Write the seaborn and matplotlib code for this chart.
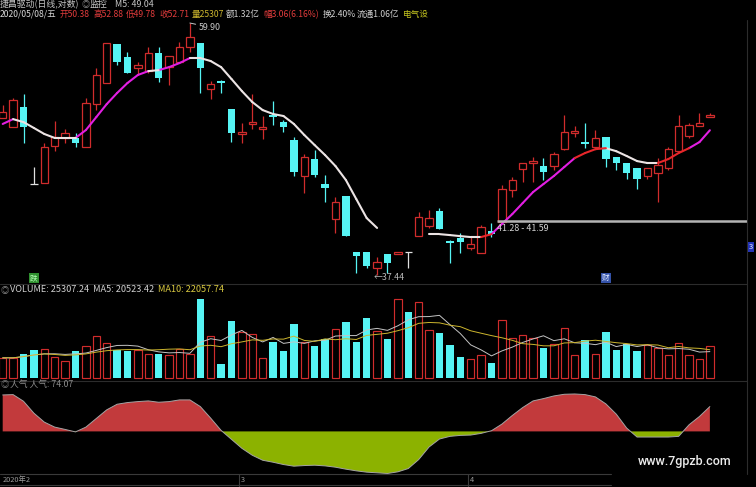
import numpy as np
import pandas as pd
import matplotlib
matplotlib.use("Agg")
import matplotlib.pyplot as plt
from matplotlib.lines import Line2D
import seaborn as sns

# --- DATA (daily candles 2020-01-21 .. 2020-05-08) ---
opens = [50.17, 49.34, 51.21, 44.36, 44.44, 47.61, 48.34, 48.34, 47.52, 51.49,
         53.56, 57.60, 56.22, 55.07, 54.76, 56.64, 55.17, 55.69, 57.28, 57.71,
         52.96, 53.75, 51.01, 48.70, 49.62, 49.15, 50.45, 49.79, 48.15, 45.03,
         46.47, 44.36, 41.55, 43.37, 39.07, 39.07, 37.92, 38.93, 38.93, 39.07,
         40.25, 41.02, 42.17, 39.88, 40.10, 39.36, 39.00, 40.64, 41.31, 43.86,
         45.61, 46.13, 45.87, 45.87, 47.34, 48.79, 47.97, 47.52, 48.43, 46.65,
         46.13, 45.70, 45.03, 45.28, 45.70, 47.16, 48.52, 49.43, 50.26]
highs = [51.40, 52.08, 52.47, 45.79, 47.88, 49.88, 49.15, 48.79, 52.08, 55.07,
         57.71, 57.60, 56.74, 55.69, 57.28, 57.28, 56.32, 57.80, 59.90, 57.71,
         53.75, 53.86, 51.01, 49.71, 52.47, 50.36, 51.79, 49.98, 48.43, 46.91,
         47.25, 45.11, 43.29, 43.37, 39.07, 39.07, 38.71, 38.93, 39.07, 39.07,
         42.10, 42.25, 42.41, 39.95, 40.48, 40.18, 41.10, 41.25, 44.27, 44.94,
         46.13, 46.65, 46.56, 47.07, 50.45, 49.43, 49.71, 49.06, 48.43, 46.65,
         46.13, 45.70, 45.70, 46.56, 47.52, 50.45, 49.71, 50.64, 50.64]
lows = [50.17, 49.34, 47.88, 44.36, 44.44, 47.16, 47.88, 47.52, 47.52, 50.92,
        53.56, 55.38, 54.57, 54.37, 54.57, 53.65, 53.36, 55.69, 56.74, 52.57,
        51.98, 52.57, 47.97, 47.88, 49.15, 48.24, 49.52, 48.88, 45.03, 43.62,
        44.94, 42.89, 40.48, 40.25, 37.57, 37.92, 37.44, 37.57, 38.93, 37.92,
        40.25, 40.87, 40.79, 38.28, 39.00, 39.22, 39.00, 40.18, 41.31, 43.29,
        44.52, 44.52, 44.69, 45.53, 47.25, 48.43, 47.43, 47.52, 45.79, 45.53,
        44.77, 43.94, 44.77, 42.89, 45.53, 47.16, 48.34, 49.43, 50.26]
closes = [50.73, 51.88, 49.34, 44.36, 47.52, 48.43, 48.79, 47.88, 51.59, 54.37,
          57.71, 55.69, 54.57, 55.38, 56.64, 54.06, 56.32, 57.28, 58.35, 55.07,
          53.46, 53.56, 48.79, 48.88, 49.79, 49.34, 50.26, 49.34, 45.36, 46.65,
          45.11, 44.03, 42.89, 40.25, 38.78, 38.06, 38.35, 38.28, 39.07, 39.07,
          41.70, 41.63, 40.79, 39.73, 39.80, 39.66, 40.94, 40.40, 43.94, 44.69,
          46.13, 46.30, 45.36, 46.91, 48.88, 48.97, 47.79, 48.34, 46.47, 46.13,
          45.28, 44.77, 45.70, 45.96, 47.34, 49.43, 49.52, 49.71, 50.45]

nan = np.nan
ma5_price = [49.62, 50.07, 49.79, 49.25, 48.70, 48.34, 48.34, 48.34, 49.06, 50.26,
             51.49, 52.57, 53.56, 54.37, 54.76, 54.86, 55.17, 55.59, 56.11, 56.11,
             55.80, 55.17, 53.96, 52.76, 51.69, 50.92, 50.55, 50.36, 49.62, 48.61,
             47.70, 46.82, 45.87, 44.69, 43.13, 41.63, 40.87, nan, nan, nan,
             nan, 40.40, 40.40, 40.33, 40.25, 40.18, 40.18, 40.40, 41.17, 41.94,
             42.81, 43.70, 44.36, 45.03, 45.79, 46.56, 47.00, 47.34, 47.43, 47.16,
             46.74, 46.30, 46.13, 46.13, 46.47, 47.00, 47.43, 47.97, 49.04]
# trend state of each MA segment as drawn: S strong up, W weak up, D down/flat
ma5_state = ("S" + "DDDDDD" + "SSSSSSS" + "D" + "SSS" + "D" * 28 + "W"
             + "SSSSSSSS" + "WWW" + "DDDDD" + "WWW" + "SS")

volumes = [15870, 15870, 18690, 21760, 22270, 16130, 13570, 20740, 24830, 32510,
           26880, 21760, 21250, 21760, 18690, 18690, 17920, 22530, 18690, 60930,
           32510, 11010, 44030, 35840, 34050, 15360, 28160, 21250, 41730, 28160,
           25090, 30210, 37630, 43520, 28160, 46590, 36350, 29950, 61180, 50940,
           58620, 36860, 34560, 25860, 16640, 15100, 17660, 11520, 44800, 31230,
           33020, 31230, 23550, 26110, 38400, 17660, 29180, 18430, 35580, 21500,
           26110, 20990, 25340, 23550, 17660, 27390, 18180, 14590, 25307]

renqi = [108.7, 109.7, 89.9, 54.3, 27.7, 12.8, 5.9, -1.5, 12.8, 38.5,
         64.2, 81.0, 86.0, 88.9, 90.9, 86.9, 88.9, 93.9, 93.9, 74.1,
         39.5, 3.0, -23.7, -50.4, -71.1, -86.0, -91.9, -98.8, -103.7, -101.8,
         -100.8, -102.8, -106.7, -112.6, -117.6, -121.5, -123.5, -125.5, -120.5, -110.7,
         -84.0, -46.4, -22.7, -14.8, -11.9, -10.9, -5.9, 2.0, 21.7, 47.4,
         71.1, 90.9, 97.8, 105.7, 110.7, 111.6, 109.7, 102.8, 82.0, 51.4,
         9.9, -16.8, -16.8, -16.8, -16.8, -14.8, 19.8, 44.5, 74.07]

band_low, band_high = 41.28, 41.59
month_labels = ["2020年2", "3", "4"]
month_first_idx = [0, 23, 45]
event_labels = [("跌", 3), ("财", 58)]

header_name = "捷昌驱动(日线,对数)"
header_watch = ["监控", "M5: 49.04"]
quote_fields = ["2020/05/08/五", "开50.38", "高52.88", "低49.78", "收52.71", "量25307",
                "额1.32亿", "幅3.06(6.16%)", "换2.40%", "流通1.06亿", "电气设"]
volume_title = ["VOLUME: 25307.24  MA5: 20523.42", "MA10: 22057.74"]
indicator_title = "人气 人气: 74.07"

# --- STYLE / LAYOUT ---
RED = "#d02c2c"
CYAN = "#56f4f4"
FLAT = "#e0e0e0"
MA_COLORS = {"S": "#e21ee2", "W": "#e8262a", "D": "#ece4e4"}
GRID = "#2c2c2c"
W, H = 756, 487
XLIM = (-0.26, 71.57)
quote_x = [0, 60, 93, 126, 159, 192, 226, 263, 323, 357, 403]
quote_colors = ["#d8d8d8", "#e23c3c", "#e23c3c", "#e23c3c", "#e23c3c", "#cdb62e",
                "#d0d0d0", "#e23c3c", "#d0d0d0", "#d0d0d0", "#c8c820"]

sns.set_style("dark", {"axes.facecolor": "black", "figure.facecolor": "black"})
plt.rcParams["font.family"] = ["Noto Sans CJK SC", "DejaVu Sans"]

fig = plt.figure(figsize=(W / 100, H / 100), dpi=100, facecolor="black")


def box(x0, y0, x1, y1):
    return [x0 / W, 1 - y1 / H, (x1 - x0) / W, (y1 - y0) / H]


def put(x, y, s, color, size=6.1, **kw):
    kw.setdefault("ha", "left")
    kw.setdefault("va", "center")
    fig.text(x / W, 1 - y / H, s, color=color, fontsize=size, **kw)


def hline(y, x0, x1, color=GRID, lw=0.8):
    fig.add_artist(Line2D([x0 / W, x1 / W], [1 - y / H, 1 - y / H], color=color, lw=lw))


def vline(x, y0, y1, color=GRID, lw=0.8):
    fig.add_artist(Line2D([x / W, x / W], [1 - y0 / H, 1 - y1 / H], color=color, lw=lw))


idx = np.arange(len(closes))
o, h, l, c = (np.array(a) for a in (opens, highs, lows, closes))
up, down, flat = c > o, c < o, c == o
candle_colors = np.where(up, RED, np.where(down, CYAN, FLAT))

# 1. price panel (log scale)
ax = fig.add_axes(box(0, 20, 747, 283))
ax.set_yscale("log")
ax.vlines(idx, l, h, colors=candle_colors, lw=0.9, zorder=2)
ax.bar(idx[up], (c - o)[up], bottom=o[up], width=0.7, facecolor="black",
       edgecolor=RED, lw=0.9, zorder=3)
ax.bar(idx[down], (o - c)[down], bottom=c[down], width=0.7, color=CYAN, lw=0, zorder=3)
ax.hlines(c[flat], idx[flat] - 0.35, idx[flat] + 0.35, colors=FLAT, lw=0.9, zorder=3)

rows = []
for i, st in enumerate(ma5_state):
    a, b = ma5_price[i], ma5_price[i + 1]
    if np.isnan(a) or np.isnan(b):
        continue
    rows += [dict(seg=i, x=i, y=a, state=st), dict(seg=i, x=i + 1, y=b, state=st)]
seg_df = pd.DataFrame(rows)
sns.lineplot(data=seg_df, x="x", y="y", hue="state", units="seg", estimator=None,
             palette=MA_COLORS, lw=1.5, legend=False, sort=False, ax=ax,
             solid_capstyle="round", zorder=4)

hi_i, lo_i = int(np.argmax(h)), int(np.argmin(l))
ax.annotate(f"{h[hi_i]:.2f}", xy=(hi_i, h[hi_i]), xytext=(6.5, -3), textcoords="offset points",
            ha="left", va="center", color="#c8c8c8", fontsize=6.4,
            arrowprops=dict(arrowstyle="-", color="#c8c8c8", lw=0.7, shrinkA=0, shrinkB=0))
ax.annotate(f"←{l[lo_i]:.2f}", xy=(lo_i, l[lo_i]), xytext=(-2.5, -1.5), textcoords="offset points",
            ha="left", va="center", color="#b8b8b8", fontsize=6.4)

band_mid = np.sqrt(band_low * band_high)
ax.hlines(band_mid, 47.5, XLIM[1], colors="#b4b4b4", lw=1.8, zorder=5)
ax.annotate(f"{band_low:.2f} - {band_high:.2f}", xy=(47.5, band_mid), xytext=(0, -6),
            textcoords="offset points", ha="left", va="center", color="#d4d4d4", fontsize=6.4,
            zorder=6)

for txt, i in event_labels:
    face, fg = ("#2f8f2f", "#b8ffb8") if txt == "跌" else ("#3452a8", "#e4ecff")
    ax.text(i, 0.018, txt, transform=ax.get_xaxis_transform(), ha="center", va="center",
            fontsize=5.5, color=fg, bbox=dict(boxstyle="square,pad=0.12", fc=face, ec="none"))

ax.set_xlim(XLIM)
ax.set_ylim(36.88, 60.24)
ax.axis("off")

# 2. volume panel
vol = np.array(volumes)
axv = fig.add_axes(box(0, 284, 747, 381))
axv.bar(idx[up], vol[up], width=0.72, facecolor="black", edgecolor=RED, lw=0.85)
axv.bar(idx[~up], vol[~up], width=0.72, color=CYAN, lw=0)
vol_df = pd.DataFrame({"x": idx, "vol": vol})
vol_df["ma5"] = vol_df["vol"].rolling(5, min_periods=1).mean()
vol_df["ma10"] = vol_df["vol"].rolling(10, min_periods=1).mean()
sns.lineplot(data=vol_df, x="x", y="ma5", color="#c4c4c4", lw=0.7, ax=axv)
sns.lineplot(data=vol_df, x="x", y="ma10", color="#cdb62e", lw=0.7, ax=axv)
axv.set_xlim(XLIM)
axv.set_ylim(-1918, 72480)
axv.axis("off")

# 3. popularity indicator panel
rq = np.array(renqi)
axi = fig.add_axes(box(0, 382, 747, 474))
axi.fill_between(idx, rq, 0, where=rq >= 0, interpolate=True, color="#c23a3c", lw=0)
axi.fill_between(idx, rq, 0, where=rq <= 0, interpolate=True, color="#8cb200", lw=0)
sns.lineplot(x=idx, y=rq, color="#a4a4a4", lw=0.7, ax=axi)
axi.set_xlim(XLIM)
axi.set_ylim(-127, 147.3)
axi.axis("off")

# 4. date strip
axd = fig.add_axes(box(0, 474, 747, 487))
for lab, i in zip(month_labels, month_first_idx):
    if i > 0:
        axd.axvline(i - 0.27, color="#3c3c3c", lw=0.8)
    axd.text(max(i - 0.1, -0.05), 0.55, lab, ha="left", va="center", color="#9a9a9a", fontsize=5.3)
axd.set_xlim(XLIM)
axd.set_ylim(0, 1)
axd.axis("off")

# frame lines
hline(284, 0, 747)
hline(381, 0, 747)
hline(474, 0, 611, color="#3a3a3a")
hline(484.5, 0, 611, color="#3a3a3a")
vline(747, 20, 474)

# headers
put(0, 4.5, header_name, "#c4c4c4", size=6.4)
put(82, 4.5, "◎", "#8a8a8a", size=6)
put(90, 4.5, header_watch[0], "#c4c4c4", size=6.4)
put(115, 4.5, header_watch[1], "#c4c4c4", size=6.4)
for s, x, col in zip(quote_fields, quote_x, quote_colors):
    put(x, 14.5, s, col, size=6.2)
put(1, 290, "◎", "#8a8a8a", size=6)
put(10, 290, volume_title[0], "#d0d0d0", size=6.6)
put(158, 290, volume_title[1], "#d8c840", size=6.6)
put(1, 384.5, "◎", "#7a7a7a", size=6)
put(10, 384.5, indicator_title, "#8c8c8c", size=6.3)
put(749, 247, "3", "#e8ecff", size=5.5,
    bbox=dict(boxstyle="square,pad=0.1", fc="#2434b8", ec="none"))
put(638, 462, "www.7gpzb.com", "#ececec", size=9, family="Roboto", weight="medium")

fig.savefig("out.png", dpi=100, facecolor="black")
